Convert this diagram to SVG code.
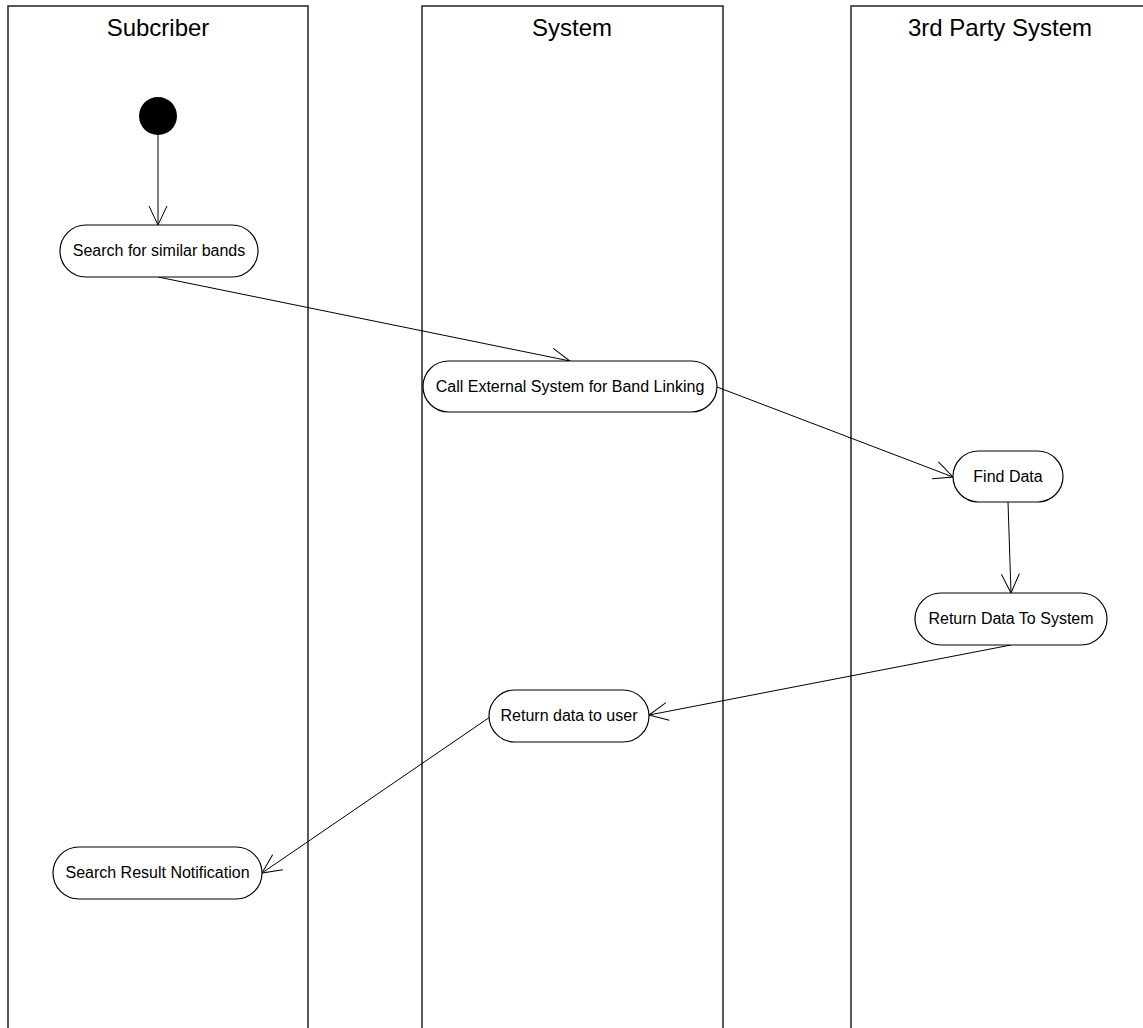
<svg xmlns="http://www.w3.org/2000/svg" width="1143" height="1028" viewBox="0 0 1143 1028">
<style>
.lane{fill:none;stroke:#222;stroke-width:1.5}
.hdr{font-family:"Liberation Sans",Arial,sans-serif;font-size:24px;fill:#000;text-anchor:middle}
.act{fill:#fff;stroke:#000;stroke-width:1.2}
.lbl{font-family:"Liberation Sans",Arial,sans-serif;font-size:16px;fill:#000;text-anchor:middle}
.edge{fill:none;stroke:#000;stroke-width:1;marker-end:url(#open)}
</style>
<defs>
<marker id="open" markerUnits="userSpaceOnUse" markerWidth="24" markerHeight="24" viewBox="-20 -12 24 24" refX="0" refY="0" orient="auto">
<path d="M-19,-9 L0,0 L-19,9" fill="none" stroke="#000" stroke-width="1"/>
</marker>
</defs>
<rect width="1143" height="1028" fill="#fff"/>
<g id="lane-subscriber">
<path class="lane" d="M8,1030 V6 H308 V1030"/>
<text class="hdr" x="158" y="36">Subcriber</text>
</g>
<g id="lane-system">
<path class="lane" d="M422,1030 V6 H723 V1030"/>
<text class="hdr" x="572" y="36">System</text>
</g>
<g id="lane-3rdparty">
<path class="lane" d="M851,1030 V6 H1151 V1030"/>
<text class="hdr" x="1000" y="36">3rd Party System</text>
</g>
<g id="connectors">
<line class="edge" x1="158" y1="135" x2="158" y2="225"/>
<line class="edge" x1="158" y1="277" x2="570" y2="361"/>
<line class="edge" x1="717" y1="387" x2="953" y2="477"/>
<line class="edge" x1="1008" y1="502" x2="1011" y2="593"/>
<line class="edge" x1="1011" y1="645" x2="649" y2="715"/>
<line class="edge" x1="490" y1="717" x2="262" y2="873"/>
</g>
<g id="start">
<circle cx="158" cy="116" r="19" fill="#000"/>
</g>
<g id="search-similar">
<rect class="act" x="60" y="225" width="198" height="52" rx="26"/>
<text class="lbl" x="159" y="256">Search for similar bands</text>
</g>
<g id="call-external">
<rect class="act" x="423" y="361" width="294" height="51" rx="25.5"/>
<text class="lbl" x="570" y="392">Call External System for Band Linking</text>
</g>
<g id="find-data">
<rect class="act" x="953" y="451" width="110" height="51" rx="25.5"/>
<text class="lbl" x="1008" y="482">Find Data</text>
</g>
<g id="return-to-system">
<rect class="act" x="915" y="593" width="192" height="52" rx="26"/>
<text class="lbl" x="1011" y="624">Return Data To System</text>
</g>
<g id="return-to-user">
<rect class="act" x="489" y="690" width="160" height="52" rx="26"/>
<text class="lbl" x="569" y="721">Return data to user</text>
</g>
<g id="search-result">
<rect class="act" x="53" y="847" width="209" height="52" rx="26"/>
<text class="lbl" x="157.5" y="878">Search Result Notification</text>
</g>
</svg>
